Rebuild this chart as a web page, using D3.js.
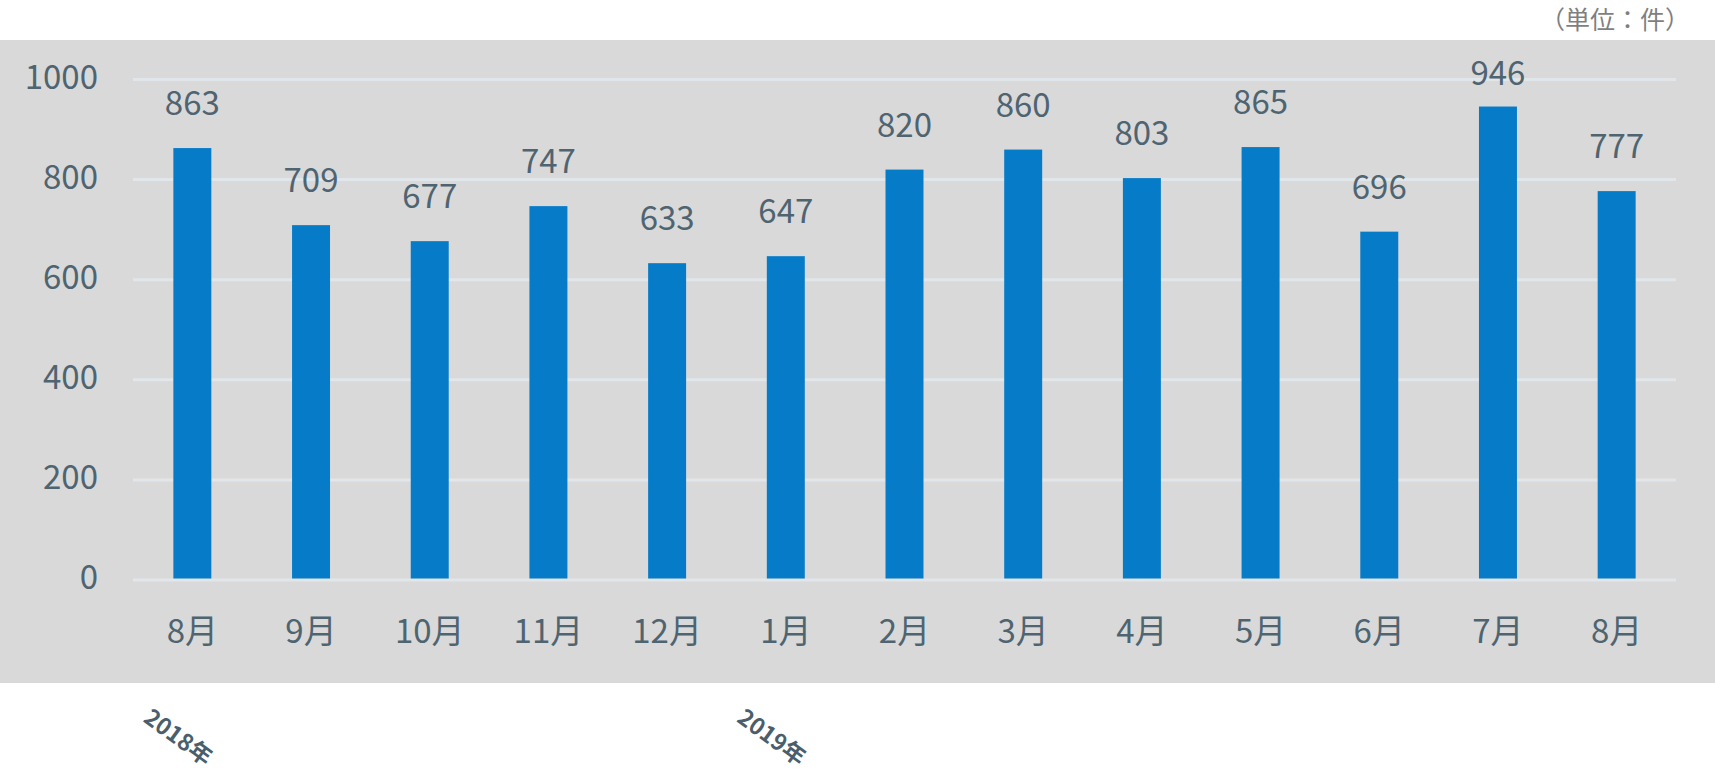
<!DOCTYPE html>
<html><head><meta charset="utf-8">
<script src="https://cdn.jsdelivr.net/npm/d3@7"></script>
<style>html,body{margin:0;padding:0;background:#fff;}svg{display:block;}</style>
</head><body>
<svg id="c" width="1715" height="769"></svg>
<script>
const categories = ["8月","9月","10月","11月","12月","1月","2月","3月","4月","5月","6月","7月","8月"];
const values = [863,709,677,747,633,647,820,860,803,865,696,946,777];
const yTicks = [0,200,400,600,800,1000];
const yearLabels = [{idx:0,text:"2018年"},{idx:5,text:"2019年"}];
const unitLabel = "（単位：件）";

const W=1715,H=769;
const svg=d3.select("#c");
const font='"Noto Sans CJK JP","Noto Sans",sans-serif';
const txt="#4f6471";
svg.append("rect").attr("x",0).attr("y",40).attr("width",W).attr("height",643).attr("fill","#d9d9d9");

const keys=categories.map((c,i)=>i);
const x=d3.scaleBand().domain(keys).range([133,1676]).paddingInner(0.68).paddingOuter(0.34);
const y=d3.scaleLinear().domain([0,1000]).range([580,79.5]);

const g=svg.append("g");
g.selectAll("line.grid").data(yTicks).join("line").attr("class","grid")
 .attr("x1",133).attr("x2",1676).attr("y1",d=>y(d)).attr("y2",d=>y(d))
 .attr("stroke","#e1e6ea").attr("stroke-width",3);

g.selectAll("text.yt").data(yTicks).join("text").attr("class","yt")
 .attr("x",98).attr("y",d=>y(d)+9).attr("text-anchor","end")
 .attr("font-family",font).attr("font-size",33).attr("fill",txt).text(d=>d);

g.selectAll("rect.bar").data(values).join("rect").attr("class","bar")
 .attr("x",(d,i)=>x(i)).attr("width",x.bandwidth())
 .attr("y",d=>y(d)).attr("height",d=>y(0)-y(d)-1.5).attr("fill","#067cc9");

g.selectAll("text.lbl").data(values).join("text").attr("class","lbl")
 .attr("x",(d,i)=>x(i)+x.bandwidth()/2).attr("y",d=>Math.max(y(d)-33,85))
 .attr("text-anchor","middle").attr("font-family",font).attr("font-size",33).attr("fill",txt).text(d=>d);

g.selectAll("text.cat").data(categories).join("text").attr("class","cat")
 .attr("x",(d,i)=>x(i)+x.bandwidth()/2).attr("y",643)
 .attr("text-anchor","middle").attr("font-family",font).attr("font-size",33).attr("fill",txt).text(d=>d);

g.selectAll("text.yr").data(yearLabels).join("text").attr("class","yr")
 .attr("transform",d=>`translate(${x(d.idx)+x.bandwidth()/2-50},721) rotate(36)`)
 .attr("font-family",font).attr("font-size",23).attr("font-weight","bold").attr("fill","#4a5e6b").text(d=>d.text);

svg.append("text").attr("x",1690).attr("y",29).attr("text-anchor","end")
 .attr("font-family",font).attr("font-size",25).attr("fill","#7f7f7f").text(unitLabel);
</script>
</body></html>
